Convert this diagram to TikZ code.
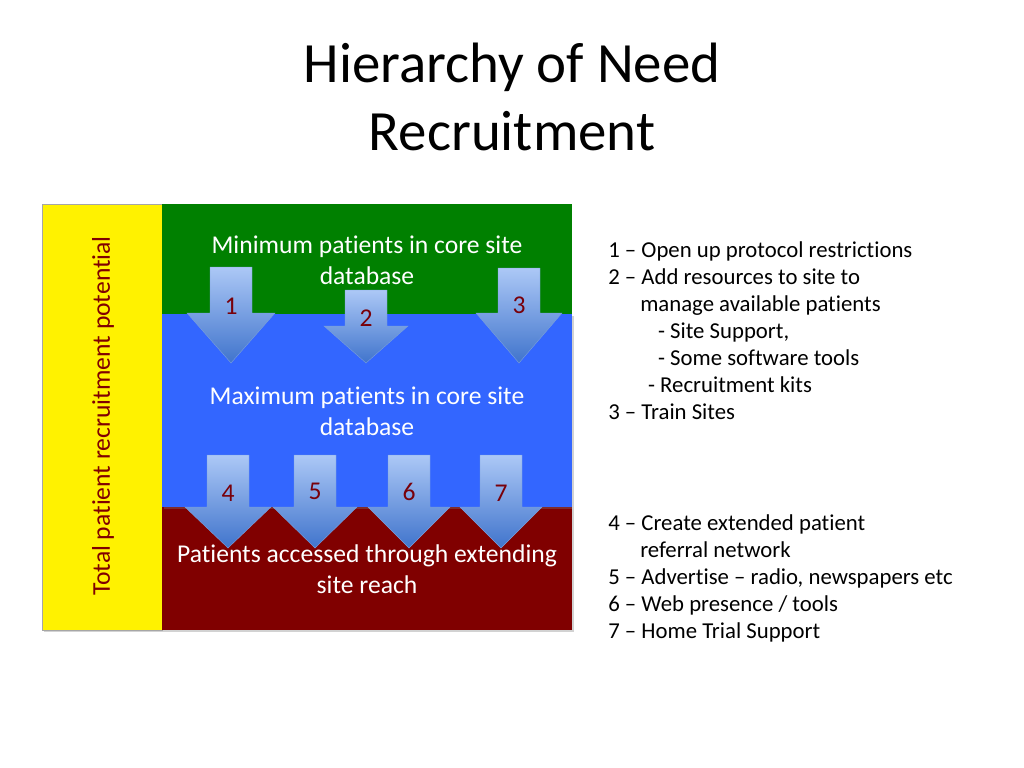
\documentclass[tikz,border=0pt]{standalone}
\usepackage{fontspec}
\setmainfont{Carlito}[Ligatures={NoCommon}]
\usetikzlibrary{calc}
\usetikzlibrary{positioning}
\usetikzlibrary{shadows}
\definecolor{levelGreen}{RGB}{0,128,0}
\definecolor{levelBlue}{RGB}{51,102,255}
\definecolor{levelRed}{RGB}{128,0,0}
\definecolor{numRed}{RGB}{120,0,10}
\definecolor{arrowTop}{RGB}{172,200,246}
\definecolor{arrowBottom}{RGB}{64,116,204}
\tikzstyle{levelbox} = [drop shadow={shadow xshift=1.2pt, shadow yshift=-1.2pt, opacity=0.35}]
\tikzstyle{leveltext} = [text=white, align=center, font=\fontsize{18}{21.8}\selectfont]
\tikzstyle{numnode} = [text=numRed, font=\fontsize{18}{21.8}\selectfont]
\tikzstyle{pusharrow} = [top color=arrowTop, bottom color=arrowBottom, draw=arrowBottom!70, line width=0.3pt]
\tikzstyle{listtext} = [align=left, inner sep=0pt, font=\fontsize{16}{19}\selectfont]

\begin{document}
\begin{tikzpicture}[x=0.703pt, y=-0.703pt]
\useasboundingbox (0,0) rectangle (1024,768);
\fill[white] (0,0) rectangle (1024,768);

\node[align=center, font=\fontsize{40}{47.8}\selectfont] (title) at (512,97) {Hierarchy of Need\\Recruitment};

\path[levelbox, fill=yellow, draw=gray!70, line width=0.6pt] (42,204) rectangle (162,630);
\path[levelbox, fill=levelRed] (162,507) rectangle (572,630);
\path[levelbox, fill=levelBlue] (162,314) rectangle (572,507);
\fill[levelGreen] (162,204) rectangle (572,314);

\node[rotate=90, text=levelRed, font=\fontsize{18}{21.8}\selectfont] (total_text) at (103,416) {Total patient recruitment potential};

\node[leveltext] (min_text) at (367,260) {Minimum patients in core site\\database};
\node[leveltext] (max_text) at (367,411) {Maximum patients in core site\\database};
\node[leveltext] (ext_text) at (367,569) {Patients accessed through extending\\site reach};

\foreach \n/\cx/\top/\neck/\tip/\hw/\ny in {1/231/267/313/363/44/306, 2/366/290/326/363/42/318, 3/519/268/313/363/43/305,
    4/228/455/507/548/43/493, 5/315/455/507/548/42/491, 6/409/455/507/548/41/492, 7/501/455/507/548/41/493}{
    \path[pusharrow] (\cx-21,\top) -- (\cx+21,\top) -- (\cx+21,\neck) -- (\cx+\hw,\neck) -- (\cx,\tip)
        -- (\cx-\hw,\neck) -- (\cx-21,\neck) -- cycle;
    \node[numnode] (num_\n) at (\cx,\ny) {\n};
}

\node[listtext, anchor=north west] (list_core) at (608,241) {1 – Open up protocol restrictions\\
2 – Add resources to site to\\
\hspace*{22.5pt}manage available patients\\
\hspace*{35pt}- Site Support,\\
\hspace*{35pt}- Some software tools\\
\hspace*{28pt}- Recruitment kits\\
3 – Train Sites};

\node[listtext, anchor=north west] (list_reach) at (608,514) {4 – Create extended patient\\
\hspace*{22.5pt}referral network\\
5 – Advertise – radio, newspapers etc\\
6 – Web presence / tools\\
7 – Home Trial Support};
\end{tikzpicture}
\end{document}
